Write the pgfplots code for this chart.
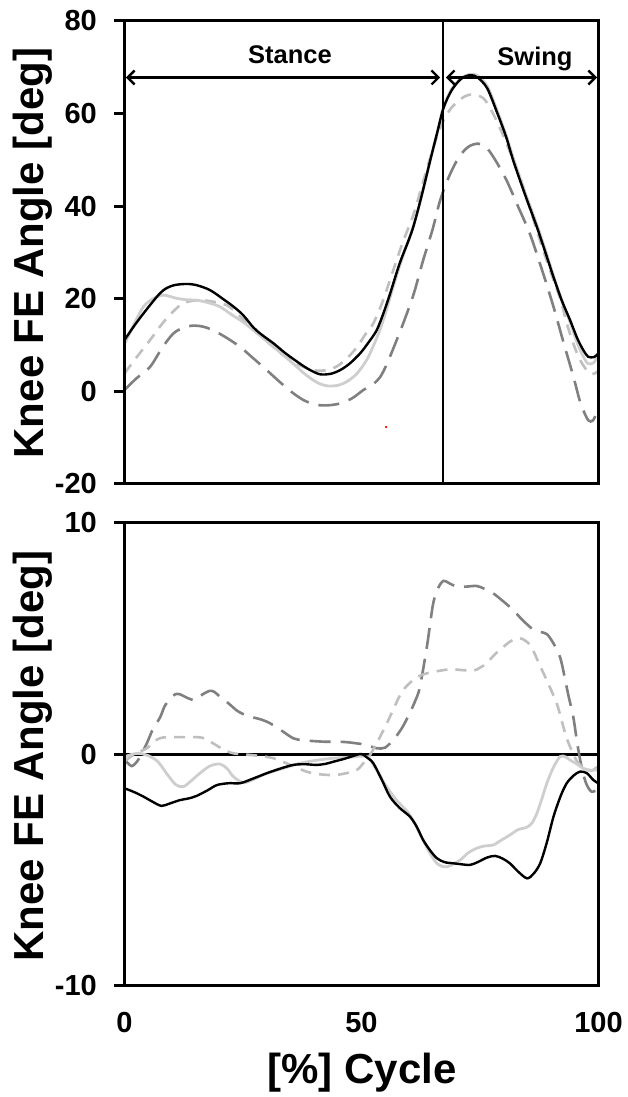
\documentclass[border=0pt]{standalone}
\usepackage{fontspec}
\setmainfont{Liberation Sans}
\usepackage{pgfplots}
\pgfplotsset{compat=1.18}
\usetikzlibrary{arrows.meta}

\definecolor{darkdash}{RGB}{128,128,128}
\definecolor{lightdash}{RGB}{191,191,191}
\definecolor{lightsolid}{RGB}{206,206,206}

\tikzset{stub/.style={line width=3pt, black}}
\pgfplotsset{
  knee/.style={
    scale only axis, width=474pt, height=463pt,
    xmin=0, xmax=100, clip=false,
    axis line style={line width=3pt},
    tick align=outside, major tick length=10pt,
    ytick pos=left,
    ytick style={line width=3pt, black},
    xtick style={draw=none},
    tick label style={font=\fontsize{29}{29}\selectfont\bfseries},
    /pgf/number format/assume math mode=true,
    yticklabel style={anchor=east, inner sep=0pt, xshift=-17.5pt},
    xticklabel style={anchor=north, inner sep=0pt, yshift=-16pt},
  },
  blk/.style={black, line width=2.4pt, smooth},
  lsol/.style={lightsolid, line width=2.8pt, smooth},
  ldash/.style={lightdash, line width=2.6pt, smooth, dash pattern=on 11pt off 8pt},
  ddash/.style={darkdash, line width=2.6pt, smooth, dash pattern=on 21pt off 10pt},
}

\begin{document}
\begin{tikzpicture}
\path[use as bounding box] (0,0) rectangle (627pt,1097pt);

% ---------- top panel: knee flexion angle ----------
\begin{axis}[knee, at={(124.5pt,613pt)}, anchor=south west,
  ymin=-20, ymax=80, ytick={-20,0,20,40,60,80}, xtick=\empty]

% dark long dashes
\addplot[ddash] coordinates {
 (0,0.3)(2.5,2.8)(5.4,5.3)(8,9.5)(10.3,12.5)(12.5,13.8)(14.5,14.2)(16.5,14)
 (18.7,13.2)(21.5,11.6)(24.4,9.6)(27,7.3)(30,4.6)(32.8,2.0)(35.6,-0.4)(38,-2.0)
 (40.5,-2.9)(43,-3.0)(45.5,-2.6)(48,-1.5)(50.4,0.3)(52.5,1.6)(54,3.2)(55.3,5.8)
 (57,10)(58.8,14.7)(61,21)(63,28.3)(65,35)(66.6,41.3)(68.5,46.5)(70.5,50.5)
 (72.5,52.8)(74.6,53.5)(76.5,52.5)(78.5,49.5)(80.6,45.6)(83,40)(85.5,34.1)
 (88,26.5)(90.5,18.3)(92.5,11)(94.7,3.2)(96.2,-2.5)(97.8,-6.2)(98.8,-6.3)
 (99.5,-4.9)(100,-4.3)};
% light short dashes
\addplot[ldash] coordinates {
 (0,3.9)(2.5,7.3)(5.4,11.1)(8.5,15.3)(11.7,18.6)(13.5,19.4)(15.9,19.7)(18.5,19.4)
 (21.6,18.6)(24,16.6)(26.5,14)(29.7,11.1)(33,8.2)(35.7,6.3)(38.4,5.0)(40.5,4.5)
 (42.7,4.6)(44.8,5.4)(46.9,7.1)(49,9.5)(50.8,12.3)(52.5,14.7)(54.6,19.8)
 (56.7,26.2)(58.7,32.2)(60.9,38)(62.5,43.5)(64.5,50.5)(66,55.3)(67.3,58.5)
 (69,61.3)(71,63.2)(72.5,64)(74.3,64)(76,63)(78,59.5)(80,55)(82,50)(84,44.5)
 (86,38)(88,31.5)(90,25.5)(92,19.8)(93.3,14.7)(94.8,10)(96.1,6.8)(97.8,4.2)
 (99,3.8)(100,4.5)};
% light solid
\addplot[lsol] coordinates {
 (0,10.2)(2,14.5)(4,18.3)(6,20)(8.2,20.8)(11,20.1)(13,19.8)(15.2,19.7)
 (17.5,19.2)(20.1,18.3)(23,16.3)(25,15)(27.2,13.2)(31,10)(35.6,6.0)(38,3.8)
 (40.5,2.0)(42.7,1.2)(45,1.3)(46.9,2.1)(49,3.8)(51.1,6.8)(53,11)(54.6,15.4)
 (56.7,22.6)(58.5,28.5)(60.9,35.5)(62.5,41.5)(64.5,49.9)(66,56)(67.3,61.4)
 (69,65.3)(71,67.6)(72.9,68.5)(74.5,68.2)(76.5,66)(78.5,61)(80.5,55.3)
 (82,50.5)(84.5,43)(87,36)(88.8,30.5)(90.5,25)(92.3,19.5)(94,15)(95.5,10.5)
 (96.8,7.5)(97.8,6)(99,6.2)(100,8)};
% black solid
\addplot[blk] coordinates {
 (0,11.1)(3,15.5)(7.5,21.2)(10,22.8)(12.8,23.2)(15,23.0)(18,21.9)(21,19.8)
 (23,18.3)(25,16.5)(27.2,13.8)(29,12.2)(31.4,10.4)(34,8.2)(37,6.0)(39,4.7)
 (41.2,3.7)(43.5,3.8)(45.5,4.6)(47.5,6.0)(49.7,8.2)(51.5,10.6)(53.2,13.2)
 (54.6,16.8)(56,21)(58,27.5)(60,32.8)(61,35.8)(62.5,41.5)(64.5,49.9)(66,56)
 (67.3,61.2)(69,65)(71,67.5)(72.9,68.3)(74.5,67.8)(76.5,65.5)(78.5,60.5)
 (80.5,55)(82,49.9)(84.5,42.5)(87,35.5)(88.8,30)(90.5,24.7)(92.3,19.5)
 (94,15.4)(95.5,11.5)(96.8,8.9)(97.8,7.5)(99,7.4)(100,8.2)};
% stray red dot
\addplot[red, only marks, mark=*, mark size=1pt] coordinates {(55.2,-7.7)};
% stance / swing divider
\addplot[black, line width=1.2pt] coordinates {(67.2,-20)(67.2,80)};

\draw[line width=3pt] (rel axis cs:0,0) rectangle (rel axis cs:1,1);
\draw[stub] (axis cs:0,-20) -- (axis cs:-2.11,-20);
\draw[stub] (axis cs:0,0) -- (axis cs:-2.11,0);
\draw[stub] (axis cs:0,20) -- (axis cs:-2.11,20);
\draw[stub] (axis cs:0,40) -- (axis cs:-2.11,40);
\draw[stub] (axis cs:0,60) -- (axis cs:-2.11,60);
\draw[stub] (axis cs:0,80) -- (axis cs:-2.11,80);
\draw[{Straight Barb[length=7pt,width=14pt]}-{Straight Barb[length=7pt,width=14pt]}, line width=2.4pt]
  (axis cs:0.3,67.8) -- (axis cs:66.6,67.8);
\draw[{Straight Barb[length=7pt,width=14pt]}-{Straight Barb[length=7pt,width=14pt]}, line width=2.4pt]
  (axis cs:67.8,67.8) -- (axis cs:99.7,67.8);
\node[anchor=base, font=\fontsize{25.5}{25.5}\selectfont\bfseries] at (axis cs:34.9,70.9) {Stance};
\node[anchor=base, font=\fontsize{25.5}{25.5}\selectfont\bfseries] at (axis cs:86.6,70.4) {Swing};
\end{axis}

% ---------- bottom panel: difference ----------
\begin{axis}[knee, at={(124.5pt,111pt)}, anchor=south west,
  ymin=-10, ymax=10, ytick={-10,0,10}, xtick={0,50,100}]

\addplot[black, line width=2.2pt] coordinates {(0,0)(100,0)};
% dark long dashes
\addplot[ddash] coordinates {
 (0,-0.2)(1.5,-0.5)(3,-0.2)(4.7,0.48)(6,1.1)(7.5,1.6)(8.5,2.1)(9.6,2.4)
 (10.7,2.6)(11.7,2.6)(13.2,2.45)(14.9,2.35)(16.5,2.6)(18,2.75)(19,2.7)
 (20.1,2.5)(22,2.2)(23.7,1.9)(25.5,1.7)(27.2,1.6)(29,1.5)(30.7,1.35)(33,1.05)
 (35.6,0.7)(37.5,0.62)(39.8,0.58)(42.5,0.55)(45.5,0.55)(47.5,0.52)(49,0.48)
 (51,0.42)(53.2,0.27)(55,0.3)(57,0.7)(58.7,1.2)(60.2,1.8)(61.3,2.3)(62.3,2.9)
 (63.8,4.66)(65.1,6.5)(66.2,7.2)(67.3,7.5)(68.5,7.4)(70.1,7.25)(72,7.25)
 (74.3,7.28)(76,7.15)(77.8,6.96)(80,6.6)(82,6.24)(84,5.8)(86.2,5.4)(87.6,5.3)
 (89.1,5.2)(90.5,4.8)(91.9,4.2)(92.8,3.4)(93.6,2.6)(94.7,1.6)(95.5,0.5)
 (96.3,-0.4)(97.3,-1.2)(98.5,-1.6)(100,-1.5)};
% light short dashes
\addplot[ldash] coordinates {
 (0,-0.3)(2,0.0)(4.7,0.27)(6.5,0.6)(8,0.73)(11,0.75)(14,0.75)(16.5,0.72)
 (18.7,0.48)(21,0.2)(23,0.05)(25.5,0.0)(28,-0.05)(31.4,-0.16)(35,-0.45)
 (38.4,-0.74)(41,-0.85)(44.1,-0.89)(46.5,-0.82)(49,-0.67)(50.5,-0.35)
 (51.8,-0.02)(53.5,0.6)(55,1.2)(56,1.63)(57.5,2.3)(58.8,2.79)(60.9,3.22)
 (62.3,3.4)(63.7,3.5)(66,3.6)(68.7,3.68)(71,3.65)(73.6,3.62)(75,3.75)
 (76.4,3.94)(78,4.3)(80,4.66)(81.5,4.9)(83.4,5.02)(85,4.85)(86.2,4.5)
 (87.5,3.9)(89.1,3.2)(91.2,2.2)(92.3,1.4)(93.3,0.7)(94.5,0.1)(95.5,-0.3)
 (97,-0.6)(98.5,-0.7)(100,-0.5)};
% light solid
\addplot[lsol] coordinates {
 (0,-0.1)(1.5,0.0)(3,0.05)(5,-0.05)(7,-0.3)(9,-0.85)(10.8,-1.3)(12.4,-1.39)
 (14,-1.15)(15.9,-0.81)(18,-0.5)(20.1,-0.41)(21.6,-0.6)(23,-0.96)(25.1,-1.22)
 (27.5,-1.05)(30,-0.81)(33.5,-0.6)(37,-0.38)(40.5,-0.25)(44.1,-0.16)
 (47.5,-0.12)(51.1,-0.09)(53,-0.6)(55.3,-1.39)(57.5,-2.0)(60,-2.55)(62,-3.3)
 (64,-4.1)(65.9,-4.7)(68,-4.85)(70.8,-4.56)(72.5,-4.25)(74.3,-4.05)(76,-3.95)
 (77.8,-3.91)(79.5,-3.7)(81.3,-3.48)(83,-3.25)(84.9,-3.14)(86,-2.95)(87,-2.54)
 (88,-1.95)(89.1,-1.24)(90.5,-0.55)(91.9,-0.09)(93,-0.1)(94,-0.24)(95.5,-0.42)
 (96.8,-0.6)(98.5,-0.68)(100,-0.65)};
% black solid
\addplot[blk] coordinates {
 (0,-1.46)(2,-1.62)(4,-1.82)(6,-2.05)(7.8,-2.22)(9.5,-2.12)(11.7,-1.97)
 (13.5,-1.9)(15.2,-1.79)(17.5,-1.55)(19.5,-1.32)(22,-1.24)(24.4,-1.24)
 (27,-1.05)(30,-0.81)(33,-0.6)(35.6,-0.45)(38,-0.42)(40.5,-0.45)(42.5,-0.4)
 (44.1,-0.31)(46.5,-0.18)(48.3,-0.06)(50,0.02)(51.3,-0.15)(52.5,-0.38)
 (54.3,-1.1)(56,-1.82)(58,-2.3)(60.2,-2.68)(61.6,-3.1)(63,-3.69)(64.5,-4.15)
 (65.9,-4.48)(67.5,-4.65)(69.4,-4.7)(71,-4.74)(72.9,-4.77)(74.5,-4.65)
 (76.5,-4.45)(78.2,-4.38)(79.8,-4.5)(81.3,-4.7)(83,-5.05)(84.9,-5.35)
 (86.3,-5.15)(87.7,-4.7)(89.1,-3.8)(90.5,-2.69)(92,-1.8)(93.3,-1.24)
 (94.8,-0.9)(96.1,-0.74)(97.5,-0.8)(98.9,-1.1)(100,-1.25)};
\draw[line width=3pt] (rel axis cs:0,0) rectangle (rel axis cs:1,1);
\draw[stub] (axis cs:0,-10) -- (axis cs:-2.11,-10);
\draw[stub] (axis cs:0,0) -- (axis cs:-2.11,0);
\draw[stub] (axis cs:0,10) -- (axis cs:-2.11,10);
\end{axis}

% axis titles
\node[rotate=90, anchor=base, font=\fontsize{42}{42}\selectfont\bfseries] at (43pt,844pt) {Knee FE Angle [deg]};
\node[rotate=90, anchor=base, font=\fontsize{42}{42}\selectfont\bfseries] at (43pt,341pt) {Knee FE Angle [deg]};
\node[anchor=base, font=\fontsize{42}{42}\selectfont\bfseries] at (362pt,13pt) {[\%] Cycle};
\end{tikzpicture}
\end{document}
